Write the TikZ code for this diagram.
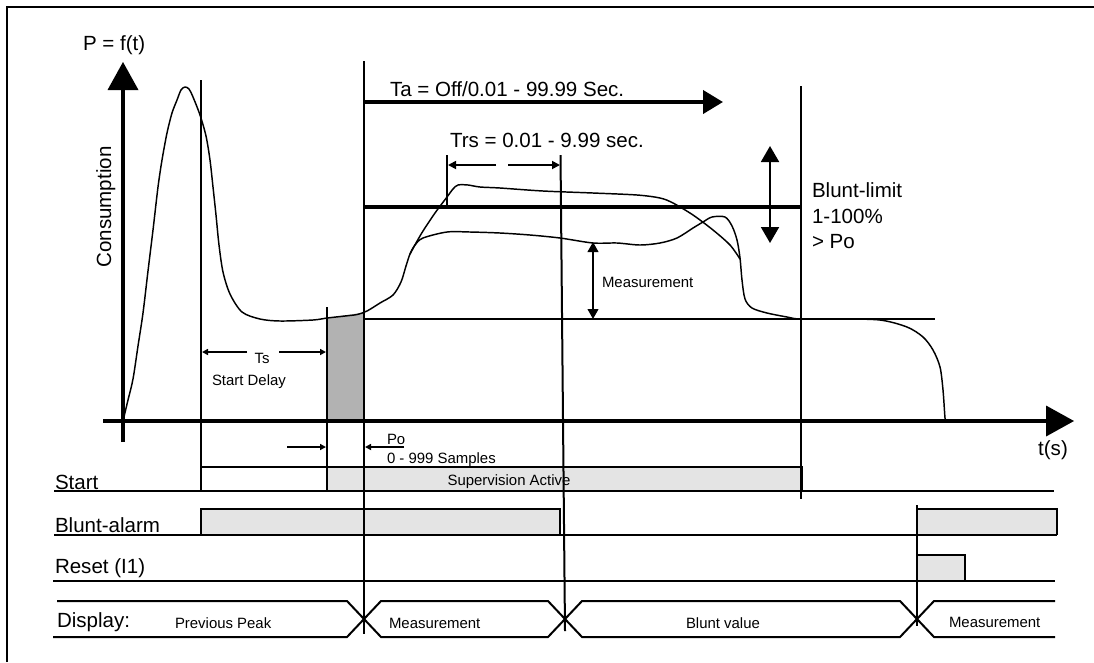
\documentclass[tikz,border=0pt]{standalone}
\usepackage{fontspec}
\setmainfont{Liberation Sans}
\usetikzlibrary{arrows.meta}
\definecolor{barfill}{RGB}{228,228,228}
\definecolor{delayfill}{RGB}{178,178,178}
\begin{document}
\begin{tikzpicture}[x=0.75pt,y=-0.75pt,
  every node/.style={inner sep=0pt, outer sep=0pt},
  bigtxt/.style={font=\fontsize{15.4pt}{18pt}\selectfont},
  smalltxt/.style={font=\fontsize{11.2pt}{13pt}\selectfont},
  hline/.style={line width=1.5pt},
  frameline/.style={line width=1.7pt},
  curve/.style={line width=1.1pt, line join=round},
  axisline/.style={line width=3.3pt, -{Triangle[length=21pt,width=23.25pt,line width=0pt]}},
  heavy/.style={line width=3pt},
  dimarrow/.style={line width=1.3pt, -{Triangle[length=4.5pt,width=4.5pt]}},
  trsarrow/.style={line width=1.3pt, -{Triangle[length=6pt,width=6pt]}},
  measarrow/.style={line width=1.5pt, {Triangle[length=7.5pt,width=8pt]}-{Triangle[length=7.5pt,width=8pt]}},
  limitarrow/.style={line width=1.5pt, {Triangle[length=12pt,width=13.5pt]}-{Triangle[length=12pt,width=13.5pt]}},
  sigbar/.style={hline, fill=barfill},
]
\useasboundingbox (0,0) rectangle (1094,662);

% frame
\draw[frameline] (7,662) -- (7,7) -- (1094,7);

% shaded Po area
\fill[delayfill] (327,421) -- (327,318) -- (364,312.5) -- (364,421) -- cycle;

% signal bars
\fill[barfill] (327,467) rectangle (802,491);
\draw[hline] (201,467) -- (802,467) -- (802,491);
\draw[sigbar] (201,535) -- (201,509) -- (560,509) -- (560,535);
\draw[sigbar] (917,535) -- (917,509) -- (1057,509) -- (1057,535);
\draw[sigbar] (917,581) -- (917,555) -- (965,555) -- (965,581);

% row base lines
\draw[hline] (54,491) -- (1054,491);
\draw[hline] (54,535) -- (1057,535);
\draw[hline] (53,581) -- (1055,581);

% display row
\draw[hline] (57,601) -- (347,601) -- (381,637) -- (548,637) -- (582,601) -- (900,601) -- (934,637) -- (1055,637);
\draw[hline] (53,637) -- (347,637) -- (381,601) -- (548,601) -- (582,637) -- (900,637) -- (934,601) -- (1055,601);

% vertical marker lines
\coordinate (v1t) at (201,80);   \coordinate (v1b) at (201,491);
\coordinate (v2t) at (327,307);  \coordinate (v2b) at (327,491);
\coordinate (v3t) at (364,61);   \coordinate (v3b) at (364,634);
\coordinate (v4t) at (560.5,155);\coordinate (v4b) at (565,631);
\coordinate (v5t) at (447,155);  \coordinate (v5b) at (447,207);
\coordinate (v6t) at (801,86);   \coordinate (v6b) at (801,499);
\coordinate (v7t) at (917,505);  \coordinate (v7b) at (917,626);
\draw[hline] (v1t) -- (v1b);
\draw[hline] (v2t) -- (v2b);
\draw[hline] (v3t) -- (v3b);
\draw[hline] (v4t) -- (v4b);
\draw[hline] (v5t) -- (v5b);
\draw[hline] (v6t) -- (v6b);
\draw[hline] (v7t) -- (v7b);

% level lines
\draw[heavy] (364,207) -- (801,207);
\draw[hline] (364,319) -- (935,319);

% axes
\draw[axisline] (123,442) -- (123,62);
\draw[axisline] (103,421) -- (1074,421);

% Ta arrow
\draw[heavy, -{Triangle[length=15pt,width=17.25pt]}] (363,102) -- (723,102);

% curves
\draw[curve] plot[smooth, tension=0.5] coordinates {
 (123,421) (128,400) (133,379) (138,346) (143,313) (148,271) (153,230) (158,187)
 (162,160) (167,133) (172,113) (177,100) (181,90) (185,87) (189,89) (193,97)
 (200,115) (206,136) (210,160) (213,187) (216,215) (219,245) (223,272) (230,294)
 (242,312) (260,319) (280,321) (313,320) (327,318) (345,316) (357,314.5) (367,311)
 (380,303) (393,295) (401,282) (406,266) (410,254) (415,245) (423,238) (447,232)
 (470,232) (500,233) (530,235) (560,238) (593,243) (617,243) (640,245) (660,243)
 (677,238) (693,228) (703,222) (712,217) (725,217) (732,226) (737,240) (740,258)
 (742,280) (745,299) (752,308) (767,313) (787,317) (800,319) (840,319) (880,320)
 (907,327) (923,337) (933,350) (940,367) (943,390) (945,418) (946,421)};
\draw[curve] plot[smooth, tension=0.5] coordinates {
 (410,254) (416,243) (423,231) (435,213) (447,197) (453,189) (458,185) (468,185)
 (480,187) (500,188) (543,191) (593,193) (637,195) (660,198) (673,203) (693,215)
 (713,230) (730,245) (740,259)};

% dimension arrows
\coordinate (tsL) at (202,352); \coordinate (tsR) at (326,352);
\draw[dimarrow] (247,352) -- (tsL);
\draw[dimarrow] (279,352) -- (tsR);
\coordinate (poL) at (326,447); \coordinate (poR) at (365,447);
\draw[dimarrow] (287,447) -- (poL);
\draw[dimarrow] (404,447) -- (poR);
\coordinate (trsL) at (448,165); \coordinate (trsR) at (560,165);
\draw[trsarrow] (496,165) -- (trsL);
\draw[trsarrow] (508,165) -- (trsR);
\coordinate (mT) at (593,242); \coordinate (mB) at (593,319);
\draw[measarrow] (mT) -- (mB);
\coordinate (lT) at (770,146); \coordinate (lB) at (770,243);
\draw[limitarrow] (lT) -- (lB);

% texts
\node[bigtxt, anchor=base west] (pf) at (83,50) {P = f(t)};
\node[bigtxt, rotate=90, anchor=base] (cons) at (111,207) {Consumption};
\node[bigtxt, anchor=base west] (ta) at (390,96) {Ta = Off/0.01 - 99.99 Sec.};
\node[bigtxt, anchor=base west] (trs) at (450,147) {Trs = 0.01 - 9.99 sec.};
\node[bigtxt, anchor=base west] (bl1) at (812,197) {Blunt-limit};
\node[bigtxt, anchor=base west] (bl2) at (812,223) {1-100\%};
\node[bigtxt, anchor=base west] (bl3) at (812,248) {> Po};
\node[smalltxt, anchor=base west] (meas) at (602,287) {Measurement};
\node[smalltxt, anchor=base] (ts) at (262,363) {Ts};
\node[smalltxt, anchor=base west] (sd) at (212,385) {Start Delay};
\node[smalltxt, anchor=base west] (po) at (387,444) {Po};
\node[smalltxt, anchor=base west] (samp) at (387,463) {0 - 999 Samples};
\node[bigtxt, anchor=base] (tsec) at (1053,455) {t(s)};
\node[smalltxt, anchor=base] (sup) at (509,485) {Supervision Active};
\node[bigtxt, anchor=base west] (lstart) at (55,489) {Start};
\node[bigtxt, anchor=base west] (lblunt) at (55,532) {Blunt-alarm};
\node[bigtxt, anchor=base west] (lreset) at (55,573) {Reset (I1)};
\node[bigtxt, anchor=base west] (ldisp) at (57,627) {Display:};
\node[smalltxt, anchor=base west] (dprev) at (175,628) {Previous Peak};
\node[smalltxt, anchor=base west] (dmeas1) at (389,628) {Measurement};
\node[smalltxt, anchor=base west] (dblunt) at (686,628) {Blunt value};
\node[smalltxt, anchor=base west] (dmeas2) at (949,627) {Measurement};
\end{tikzpicture}
\end{document}
